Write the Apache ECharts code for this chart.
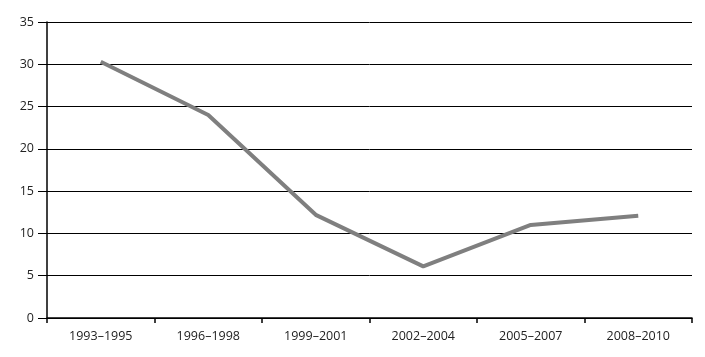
<!DOCTYPE html>
<html><head><meta charset="utf-8">
<script src="https://cdn.jsdelivr.net/npm/echarts@6/dist/echarts.min.js"></script>
<style>html,body{margin:0;padding:0;background:#fff}#c{width:705px;height:357px}</style>
</head><body><div id="c"></div>
<script>
const categories = ['1993–1995','1996–1998','1999–2001','2002–2004','2005–2007','2008–2010'];
const values = [30.3, 24.0, 12.2, 6.1, 11.0, 12.1];
const yTicks = {min: 0, max: 35, interval: 5};

const chart = echarts.init(document.getElementById('c'), null, {renderer: 'canvas'});
chart.setOption({
  animation: false,
  grid: {left: 47, right: 13, top: 22, bottom: 39, containLabel: false},
  xAxis: {
    type: 'category', data: categories, boundaryGap: true,
    axisLine: {lineStyle: {color: '#000', width: 1.5}},
    axisTick: {show: true, length: 5, lineStyle: {color: '#000', width: 1.5}},
    axisLabel: {color: '#222', fontFamily: 'Open Sans', fontSize: 12.5, margin: 12}
  },
  yAxis: {
    type: 'value', min: yTicks.min, max: yTicks.max, interval: yTicks.interval,
    axisLine: {show: true, lineStyle: {color: '#000', width: 1.5}},
    axisTick: {show: true, length: 9, lineStyle: {color: '#000', width: 1}},
    splitLine: {lineStyle: {color: '#000', width: 1}},
    axisLabel: {color: '#222', fontFamily: 'Open Sans', fontSize: 12.5, margin: 13}
  },
  series: [{
    type: 'line', data: values, symbol: 'none',
    lineStyle: {color: '#7f7f7f', width: 4}
  }]
});
</script></body></html>
